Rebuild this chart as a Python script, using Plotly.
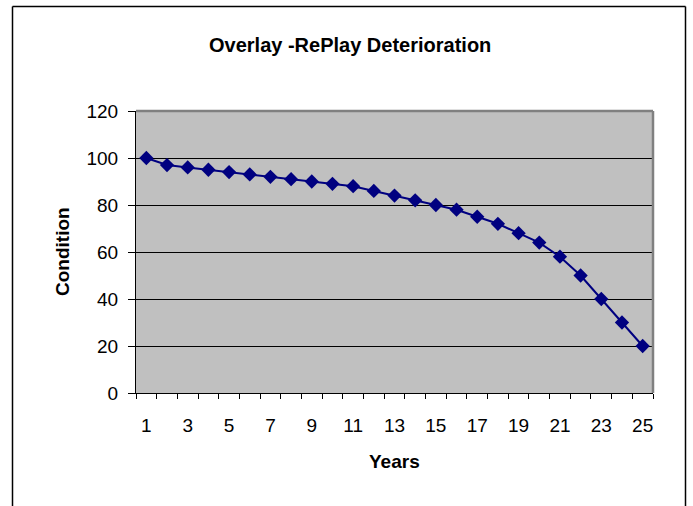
import plotly.graph_objects as go

years = list(range(1, 26))
condition = [100, 97, 96, 95, 94, 93, 92, 91, 90, 89, 88, 86, 84, 82, 80,
             78, 75, 72, 68, 64, 58, 50, 40, 30, 20]
x_tick_labels = [str(v) for v in range(1, 26, 2)]
y_ticks = [0, 20, 40, 60, 80, 100, 120]

W, H = 693, 506
L, T = 136, 111
R = W - 653
B = H - 393
pw, ph = W - L - R, H - T - B


def px_x(px):
    return (px - L) / pw


def px_y(py):
    return (H - B - py) / ph


fig = go.Figure()
fig.add_trace(go.Scatter(
    x=years, y=condition, mode="lines+markers",
    line=dict(color="#000080", width=2),
    marker=dict(symbol="diamond", size=11, color="#000080"),
    showlegend=False,
))

font = "Liberation Sans, Arial, sans-serif"
fig.update_layout(
    width=W, height=H,
    margin=dict(l=L, r=R, t=T, b=B, autoexpand=False),
    paper_bgcolor="white",
    plot_bgcolor="#C0C0C0",
    font=dict(family=font, size=19, color="black"),
    xaxis=dict(
        range=[0.5, 25.5], tickmode="array",
        tickvals=list(range(1, 26, 2)), ticktext=x_tick_labels,
        ticks="outside", ticklen=6, tickcolor="rgba(0,0,0,0)",
        ticklabelstandoff=9,
        showgrid=False, zeroline=False,
        showline=True, linecolor="black", linewidth=1,
        minor=dict(tickmode="linear", tick0=0.5, dtick=1, ticks="outside",
                   ticklen=5, tickcolor="black", showgrid=False),
        tickfont=dict(size=19),
        automargin=False,
    ),
    yaxis=dict(
        range=[0, 120], tickmode="array", tickvals=y_ticks,
        ticks="outside", ticklen=7, tickcolor="black",
        ticklabelstandoff=6,
        showgrid=True, gridcolor="black", gridwidth=1,
        zeroline=False, showline=True, linecolor="black", linewidth=1,
        tickfont=dict(size=19),
        automargin=False,
    ),
)

# title and axis titles
fig.add_annotation(text="<b>Overlay -RePlay Deterioration</b>", xref="paper", yref="paper",
                   x=px_x(350), y=px_y(45), xanchor="center", yanchor="middle",
                   showarrow=False, font=dict(size=20, family=font))
fig.add_annotation(text="<b>Years</b>", xref="paper", yref="paper",
                   x=px_x(394), y=px_y(461), xanchor="center", yanchor="middle",
                   showarrow=False, font=dict(size=19, family=font))
fig.add_annotation(text="<b>Condition</b>", xref="paper", yref="paper",
                   x=px_x(62), y=px_y(252), xanchor="center", yanchor="middle",
                   textangle=-90, showarrow=False, font=dict(size=19, family=font))

# plot area gray border (top/right)
fig.add_shape(type="line", xref="paper", yref="paper", x0=0, x1=1, y0=1, y1=1,
              line=dict(color="#808080", width=2.5))
fig.add_shape(type="line", xref="paper", yref="paper", x0=1, x1=1, y0=0, y1=1,
              line=dict(color="#808080", width=2.5))
# outer chart frame (drawn as separate lines)
fx0, fx1 = px_x(12.5), px_x(685.5)
fy_top, fy_bot = px_y(6.5), px_y(520)
for (a, b, c, d) in [(fx0, fy_top, fx1, fy_top), (fx0, fy_bot, fx0, fy_top),
                     (fx1, fy_bot, fx1, fy_top)]:
    fig.add_shape(type="line", xref="paper", yref="paper",
                  x0=a, y0=b, x1=c, y1=d, line=dict(color="black", width=1.5))

fig.write_html(
    "out.html",
    config={"displayModeBar": False},
    post_script="document.body.style.margin='0';document.body.style.overflow='hidden';",
)
